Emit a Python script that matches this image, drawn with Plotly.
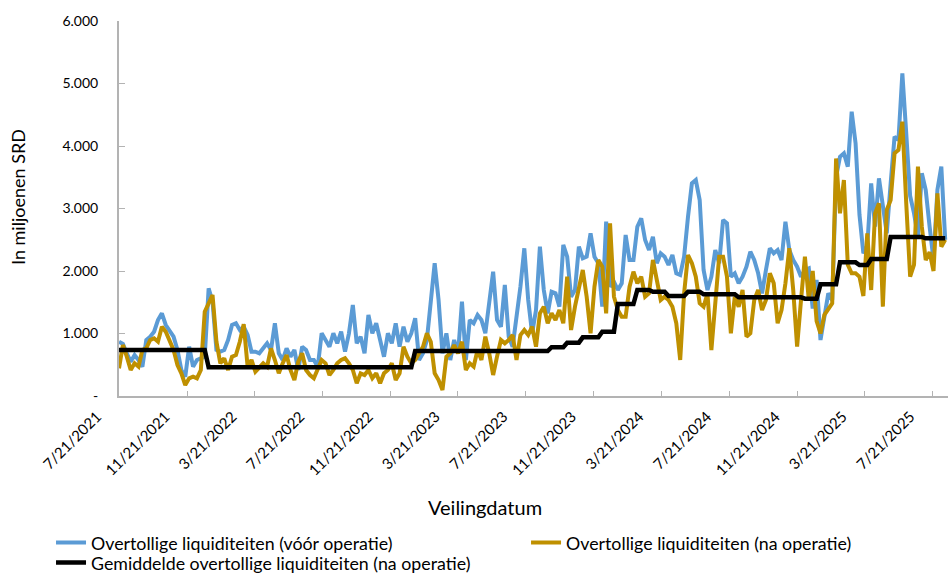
import numpy as np
import pandas as pd
import plotly.graph_objects as go

start_date = "2021-07-21"

before_op = [
    869, 832, 683, 549, 656, 576, 469, 896, 949, 1029, 1216, 1323, 1136, 1029, 949, 736, 416, 309, 789, 469,
    576, 603, 629, 1723, 1509, 736, 709, 736, 896, 1136, 1163, 1056, 1109, 976, 709, 709,
    683, 763, 843, 736, 1163, 683, 576, 763, 629, 736, 416, 789, 736, 576, 576, 469, 1003, 896, 789, 1003,
    843, 1029, 709, 1003, 1456, 843, 949, 683, 1296, 1003, 1163, 896, 629, 1003, 843,
    1163, 789, 1109, 869, 1003, 1243, 576, 683, 896, 1536, 2123, 1536, 683, 1003, 576, 896, 683, 1509, 576, 1216,
    1163, 1296, 1216, 1003, 1536, 1989, 1216, 1109, 1776, 949, 789, 1216, 1749, 2363, 1536, 1003,
    1376, 2389, 1696, 1323, 1669, 1643, 1429, 2416, 2229, 1589, 1696, 2389, 2203, 2229, 2603, 2229, 2123, 1429, 2789, 1749,
    1829, 1696, 1803, 2576, 2176, 2176, 2709, 2843, 2496, 2336, 2549, 2123, 2283, 2229, 2096,
    2256, 1963, 1936, 2229, 2869, 3403, 3456, 3136, 2016, 1696, 1909, 2336, 2123, 2816, 2763, 1909, 1963, 1803, 1909, 2069,
    2309, 2176, 1963, 1643, 2016, 2363, 2283, 2336, 2176, 2789, 2336, 2176, 2069, 1909, 2016, 2043,
    1400, 1856, 896, 1323, 1643, 1536, 3500, 3829, 3883, 3669, 4549, 4043, 2900, 2283, 2400, 3403, 2709, 3483, 3083, 2603,
    3400, 4149, 4096, 5163, 4200, 3200, 2923, 2549, 3563, 3296, 2709, 2176, 3300, 3669, 2500,
]

after_op = [
    443, 816, 629, 416, 523, 469, 736, 763, 896, 923, 869, 1109, 1029, 896, 736, 496, 363, 176, 283, 309,
    283, 416, 1349, 1483, 1616, 869, 523, 603, 416, 629, 656, 869, 1150, 469, 576, 389,
    469, 523, 469, 763, 576, 363, 523, 656, 416, 256, 549, 683, 416, 336, 283, 416, 576, 523, 336, 416,
    523, 576, 603, 523, 416, 203, 363, 336, 416, 283, 363, 203, 363, 416, 523,
    256, 363, 789, 629, 523, 576, 683, 789, 1003, 869, 363, 256, 96, 629, 683, 816, 683, 869, 416, 523,
    469, 736, 576, 949, 683, 336, 629, 896, 843, 896, 976, 576, 976, 1056, 976, 1109,
    789, 1323, 1429, 1163, 1323, 1216, 1376, 1163, 1909, 1056, 1429, 1696, 2016, 1589, 1003, 1749, 2176, 2069, 1323, 2763,
    1589, 1376, 1269, 1269, 1749, 1989, 1803, 1909, 1589, 1643, 2176, 1856, 1536, 1589, 1536,
    1429, 1163, 576, 1643, 2256, 2123, 1909, 1483, 1429, 1643, 736, 1536, 2229, 2229, 1909, 1003, 1589, 1429, 1696, 949,
    1003, 1536, 1696, 1376, 1536, 1963, 1803, 1163, 1376, 1803, 2363, 1696, 789, 1536, 2229, 1536,
    2000, 1200, 1000, 1300, 1400, 1483, 3800, 2923, 3456, 2100, 1963, 1963, 1909, 1600, 2603, 1696, 2923, 3083, 1429, 2976,
    3136, 3883, 3936, 4389, 3083, 1909, 2100, 3669, 2709, 2176, 2300, 2000, 3243, 2389, 2500,
]

# average (after operation): level and number of weekly auctions it holds for
avg_levels = [736, 460, 720, 780, 853, 939, 1029, 1472, 1696, 1669, 1600, 1669, 1627,
              1579, 1557, 1787, 2139, 2096, 2192, 2545, 2523]
avg_weeks = [23, 53, 35, 4, 4, 5, 4, 5, 4, 4, 5, 4, 9,
             17, 4, 5, 5, 3, 5, 9, 6]

tick_dates = ["2021-07-21", "2021-11-21", "2022-03-21", "2022-07-21", "2022-11-21", "2023-03-21",
              "2023-07-21", "2023-11-21", "2024-03-21", "2024-07-21", "2024-11-21", "2025-03-21", "2025-07-21"]
tick_labels = ["7/21/2021", "11/21/2021", "3/21/2022", "7/21/2022", "11/21/2022", "3/21/2023",
               "7/21/2023", "11/21/2023", "3/21/2024", "7/21/2024", "11/21/2024", "3/21/2025", "7/21/2025"]
y_ticks = [0, 1000, 2000, 3000, 4000, 5000, 6000]
y_labels = ["-", "1.000", "2.000", "3.000", "4.000", "5.000", "6.000"]

names = ["Overtollige liquiditeiten (vóór operatie)",
         "Overtollige liquiditeiten (na operatie)",
         "Gemiddelde overtollige liquiditeiten (na operatie)"]

dates = pd.date_range(start_date, periods=len(before_op), freq="7D")
avg_series = np.repeat(avg_levels, avg_weeks)

FONT = "Lato, 'Open Sans', sans-serif"

fig = go.Figure()
fig.add_trace(go.Scatter(x=dates, y=before_op, mode="lines", name=names[0], legend="legend",
                         line=dict(color="#5b9bd5", width=4)))
fig.add_trace(go.Scatter(x=dates, y=after_op, mode="lines", name=names[1], legend="legend2",
                         line=dict(color="#bf9000", width=4)))
fig.add_trace(go.Scatter(x=dates, y=avg_series, mode="lines", name=names[2], legend="legend3",
                         line=dict(color="#000000", width=4.5)))

leg_common = dict(orientation="v", xanchor="left", yanchor="middle",
                  font=dict(family=FONT, size=17.8, color="#000000"),
                  bgcolor="rgba(0,0,0,0)", borderwidth=0)

fig.update_layout(
    width=948, height=574,
    margin=dict(l=119, r=0, t=21, b=178, autoexpand=False),
    paper_bgcolor="white", plot_bgcolor="white",
    font=dict(family=FONT, size=14, color="#000000"),
    showlegend=True,
    legend=dict(x=-0.082, y=-0.392, **leg_common),
    legend2=dict(x=0.491, y=-0.392, **leg_common),
    legend3=dict(x=-0.082, y=-0.4453, **leg_common),
    xaxis=dict(type="date", range=["2021-07-21", "2025-08-18"],
               tickvals=tick_dates, ticktext=tick_labels, tickangle=-45,
               ticks="inside", ticklen=5, tickcolor="#b3b3b3", tickwidth=1,
               showline=True, linecolor="#b3b3b3", linewidth=2,
               showgrid=False, zeroline=False, automargin=False,
               ticklabelshift=-22, ticklabelstandoff=4,
               tickfont=dict(family=FONT, size=15, color="#000000")),
    yaxis=dict(range=[0, 6000], tickvals=y_ticks, ticktext=y_labels,
               ticks="inside", ticklen=6, tickcolor="#b3b3b3", tickwidth=1,
               showline=True, linecolor="#b3b3b3", linewidth=2,
               showgrid=False, zeroline=False, ticklabelstandoff=16, automargin=False,
               tickfont=dict(family=FONT, size=14, color="#000000")),
    annotations=[
        dict(text="In miljoenen SRD", xref="paper", yref="paper", x=-0.1218, y=0.5307,
             xanchor="center", yanchor="middle",
             textangle=-90, showarrow=False, font=dict(family=FONT, size=18)),
        dict(text="Veilingdatum", xref="paper", yref="paper", x=0.4415, y=-0.296,
             xanchor="center", yanchor="middle",
             showarrow=False, font=dict(family=FONT, size=20)),
    ],
)

fig.write_html("out.html", config={"displayModeBar": False},
               post_script="document.body.style.margin='0px';")
